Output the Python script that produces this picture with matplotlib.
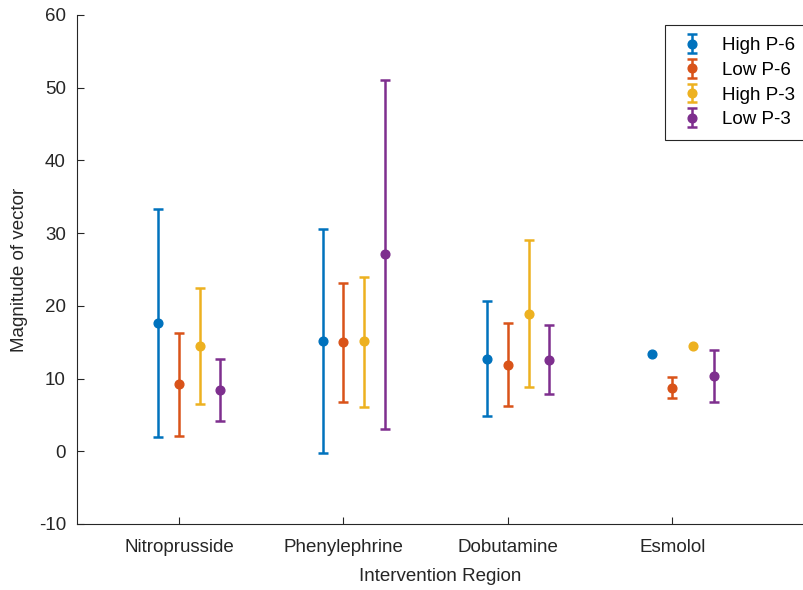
import numpy as np
import matplotlib
matplotlib.use("Agg")
import matplotlib.pyplot as plt
from matplotlib.legend_handler import HandlerErrorbar

plt.rcParams['font.family'] = ['Liberation Sans', 'DejaVu Sans']
plt.rcParams['axes.unicode_minus'] = False

regions = ['Nitroprusside', 'Phenylephrine', 'Dobutamine', 'Esmolol']
series = ['High P-6', 'Low P-6', 'High P-3', 'Low P-3']
colors = ['#0072BD', '#D95319', '#EDB120', '#7E2F8E']

# mean values, per series (rows) and region (columns)
means = [
    [17.6, 15.1, 12.7, 13.4],
    [9.2, 15.0, 11.9, 8.75],
    [14.5, 15.1, 18.9, 14.5],
    [8.4, 27.1, 12.6, 10.3],
]
# bottom of the error bar (nan = no bar drawn)
lows = [
    [2.0, -0.3, 4.8, np.nan],
    [2.1, 6.8, 6.2, 7.3],
    [6.5, 6.1, 8.8, np.nan],
    [4.2, 3.1, 7.9, 6.8],
]
# top of the error bar
highs = [
    [33.3, 30.5, 20.6, np.nan],
    [16.3, 23.2, 17.7, 10.2],
    [22.5, 24.0, 29.0, np.nan],
    [12.65, 51.0, 17.4, 13.9],
]

offsets = [-0.125, 0.0, 0.125, 0.25]


def main():
    fig = plt.figure(figsize=(8.04, 5.90), dpi=100)
    ax = fig.add_axes([0.0958, 0.1119, 0.9042, 0.8627])

    x = np.arange(1, len(regions) + 1)
    for i, name in enumerate(series):
        m = np.array(means[i])
        lo = m - np.array(lows[i])
        hi = np.array(highs[i]) - m
        ax.errorbar(x + offsets[i], m, yerr=[lo, hi], fmt='o', color=colors[i],
                    markersize=6.3, elinewidth=1.8, capsize=3.3, capthick=1.8,
                    label=name)

    ax.set_xlim(0.38, 4.8)
    ax.set_ylim(-10, 60)
    ax.set_xticks(x)
    ax.set_xticklabels(regions)
    ax.set_yticks(range(-10, 61, 10))

    for side in ['top', 'right']:
        ax.spines[side].set_visible(False)
    for side in ['left', 'bottom']:
        ax.spines[side].set_color('#262626')
        ax.spines[side].set_linewidth(0.8)
    ax.tick_params(direction='in', length=5, width=0.8, colors='#262626',
                   labelsize=13.5, labelcolor='#262626')
    ax.tick_params(axis='x', pad=11)
    ax.tick_params(axis='y', pad=8)

    ax.set_xlabel('Intervention Region', fontsize=13.5, color='#262626')
    ax.set_ylabel('Magnitude of vector', fontsize=13.5, color='#262626')
    ax.xaxis.set_label_coords(0.5, -0.086)
    ax.yaxis.set_label_coords(-0.0674, 0.5)

    leg = ax.legend(loc='upper left', bbox_to_anchor=(0.8088, 0.9804), fontsize=13.5,
                    fancybox=False, framealpha=1, edgecolor='#262626',
                    handlelength=1.6, handletextpad=0.8, borderpad=0.65,
                    borderaxespad=0, labelspacing=0.4,
                    handler_map={type(ax.containers[0]): HandlerErrorbar(xerr_size=0.5)})
    leg.get_frame().set_linewidth(0.8)

    fig.savefig('out.png', dpi=100)


if __name__ == '__main__':
    main()
